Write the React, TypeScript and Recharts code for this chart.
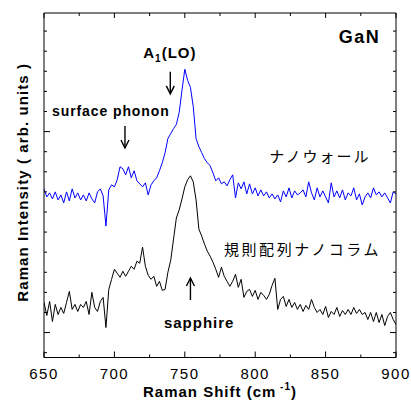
import React from 'react';
import { LineChart, Line, XAxis, YAxis, ReferenceDot, ReferenceLine } from 'recharts';

// Raman shift grid (cm^-1)
const shifts = [
  650, 652, 654, 656, 658, 660, 662, 664, 666, 668,
  670, 672, 674, 676, 678, 680, 682, 684, 686, 688,
  690, 692, 694, 696, 698, 700, 702, 704, 706, 708,
  710, 712, 714, 716, 718, 720, 722, 724, 726, 728,
  730, 732, 734, 736, 738, 740, 742, 744, 746, 748,
  750, 752, 754, 756, 758, 760, 762, 764, 766, 768,
  770, 772, 774, 776, 778, 780, 782, 784, 786, 788,
  790, 792, 794, 796, 798, 800, 802, 804, 806, 808,
  810, 812, 814, 816, 818, 820, 822, 824, 826, 828,
  830, 832, 834, 836, 838, 840, 842, 844, 846, 848,
  850, 852, 854, 856, 858, 860, 862, 864, 866, 868,
  870, 872, 874, 876, 878, 880, 882, 884, 886, 888,
  890, 892, 894, 896, 898, 900,
];

// ナノウォール (blue, upper trace)
const nanowall = [
  143, 135, 139, 133, 140, 132, 137, 129, 140, 131,
  143, 134, 139, 132, 137, 131, 139, 133, 129, 140,
  143, 136, 106, 142, 147, 145, 152, 165, 163, 157,
  165, 154, 161, 151, 148, 145, 149, 137, 147, 151,
  154, 161, 169, 179, 193, 198, 203, 207, 219, 241,
  262, 251, 244, 225, 193, 185, 179, 173, 169, 166,
  159, 151, 154, 148, 150, 146, 152, 157, 134, 149,
  143, 150, 138, 148, 138, 144, 136, 142, 136, 140,
  134, 138, 133, 137, 130, 141, 135, 144, 134, 141,
  137, 139, 142, 135, 150, 139, 132, 144, 135, 141,
  135, 129, 149, 135, 141, 134, 142, 132, 139, 136,
  144, 132, 138, 127, 135, 139, 134, 144, 137, 140,
  135, 139, 134, 129, 140, 138,
];

// 規則配列ナノコラム (black, lower trace)
const nanocolumn = [
  30, 17, 31, 11, 28, 18, 25, 19, 30, 41,
  23, 28, 21, 28, 25, 31, 18, 40, 25, 21,
  31, 35, 5, 43, 53, 63, 59, 55, 61, 56,
  61, 66, 63, 71, 69, 85, 66, 57, 53, 56,
  46, 51, 42, 43, 60, 72, 93, 114, 122, 133,
  145, 152, 156, 150, 132, 103, 96, 88, 81, 76,
  70, 63, 55, 65, 56, 51, 46, 51, 58, 45,
  53, 35, 41, 43, 36, 42, 33, 40, 37, 33,
  38, 47, 54, 23, 33, 36, 26, 33, 25, 30,
  23, 28, 21, 27, 23, 33, 25, 20, 23, 18,
  26, 15, 21, 18, 25, 16, 22, 18, 23, 18,
  25, 19, 23, 18, 20, 13, 20, 11, 20, 10,
  18, 7, 16, 20, 13, 8,
];

const xTicks = [650, 675, 700, 725, 750, 775, 800, 825, 850, 875, 900];
const xLabelStep = 50;
const yTicks = [-20, 0, 20, 40, 60, 80, 100, 120, 140, 160, 180, 200, 220, 240, 260, 280, 300];
const yMajorTicks = [0, 200];
const xDomain = [650, 900];
const yDomain = [-24.8, 318];

const data = shifts.map((x, i) => ({ x, wall: nanowall[i], column: nanocolumn[i] }));

const LATIN = '"Liberation Sans", Arial, Helvetica, sans-serif';
const CJK = '"Noto Sans CJK JP", "Noto Sans CJK SC", sans-serif';

const BottomTick = (p: any) => {
  const v = p.payload.value;
  const major = v % xLabelStep === 0;
  return (
    <g>
      <line x1={p.x} x2={p.x} y1={p.y} y2={p.y - (major ? 6 : 3)} stroke="#000" strokeWidth={1} />
      {major && (
        <text x={p.x} y={p.y + 21} textAnchor="middle" fontFamily={LATIN} fontSize={15} letterSpacing={1.5} fill="#000">
          {v}
        </text>
      )}
    </g>
  );
};

const TopTick = (p: any) => {
  const v = p.payload.value;
  const major = v % xLabelStep === 0;
  return <line x1={p.x} x2={p.x} y1={p.y} y2={p.y + (major ? 5 : 3)} stroke="#000" strokeWidth={1} />;
};

const LeftTick = (p: any) => {
  const major = yMajorTicks.includes(p.payload.value);
  return <line x1={p.x} x2={p.x + (major ? 6 : 3)} y1={p.y} y2={p.y} stroke="#000" strokeWidth={1} />;
};

const RightTick = (p: any) => {
  const major = yMajorTicks.includes(p.payload.value);
  return <line x1={p.x} x2={p.x - (major ? 6 : 3)} y1={p.y} y2={p.y} stroke="#000" strokeWidth={1} />;
};

const textAt = (content: React.ReactNode, size: number, opts: { bold?: boolean; family?: string; ls?: number } = {}) =>
  (p: any) => (
    <text
      x={p.cx}
      y={p.cy}
      textAnchor="middle"
      fontFamily={opts.family ?? LATIN}
      fontWeight={opts.bold === false ? 400 : 700}
      fontSize={size}
      letterSpacing={opts.ls ?? 0}
      fill="#000"
    >
      {content}
    </text>
  );

const headDown = (p: any) => (
  <path d={`M${p.cx - 4},${p.cy - 8} L${p.cx},${p.cy} L${p.cx + 4},${p.cy - 8}`} fill="none" stroke="#000" strokeWidth={1.4} />
);
const headUp = (p: any) => (
  <path d={`M${p.cx - 4},${p.cy + 8} L${p.cx},${p.cy} L${p.cx + 4},${p.cy + 8}`} fill="none" stroke="#000" strokeWidth={1.4} />
);

const XTitle = (props: any) => {
  const vb = props.viewBox ?? { x: 44, y: 357.5, width: 352, height: 1 };
  const cx = vb.x + vb.width / 2;
  const y = vb.y + 39.5;
  return (
    <text x={cx} y={y} textAnchor="middle" fontFamily={LATIN} fontWeight={700} fontSize={15} letterSpacing={1} fill="#000">
      <tspan>Raman Shift (cm</tspan>
      <tspan dy={-7} fontSize={10}> -1</tspan>
      <tspan dy={7}>)</tspan>
    </text>
  );
};

const YTitle = (props: any) => {
  const vb = props.viewBox ?? { x: 43, y: 13, width: 1, height: 344.5 };
  const cx = vb.x + vb.width - 16.5;
  const cy = vb.y + vb.height / 2 - 3;
  return (
    <text
      x={cx}
      y={cy}
      transform={`rotate(-90 ${cx} ${cy})`}
      textAnchor="middle"
      fontFamily={LATIN}
      fontWeight={700}
      fontSize={15}
      letterSpacing={1.1}
      fill="#000"
    >
      Raman Intensity ( arb. units )
    </text>
  );
};

const axisStroke = { stroke: '#000', strokeWidth: 1 };

export default function App() {
  return (
    <div style={{ position: 'absolute', left: 0, top: 0, width: 411, height: 401, background: '#fff' }}>
      <LineChart width={411} height={401} data={data} margin={{ top: 12, right: 14, bottom: 42.5, left: 43 }}>
        <XAxis
          xAxisId="b"
          dataKey="x"
          type="number"
          domain={xDomain}
          ticks={xTicks}
          interval={0}
          allowDataOverflow
          orientation="bottom"
          height={1}
          tickSize={0}
          tickMargin={0}
          axisLine={axisStroke}
          tickLine={false}
          tick={BottomTick}
          label={(p: any) => <XTitle {...p} />}
        />
        <XAxis
          xAxisId="t"
          dataKey="x"
          type="number"
          domain={xDomain}
          ticks={xTicks}
          interval={0}
          allowDataOverflow
          orientation="top"
          height={1}
          tickSize={0}
          tickMargin={0}
          axisLine={axisStroke}
          tickLine={false}
          tick={TopTick}
        />
        <YAxis
          yAxisId="l"
          type="number"
          domain={yDomain}
          ticks={yTicks}
          interval={0}
          allowDataOverflow
          orientation="left"
          width={1}
          tickSize={0}
          tickMargin={0}
          axisLine={axisStroke}
          tickLine={false}
          tick={LeftTick}
          label={(p: any) => <YTitle {...p} />}
        />
        <YAxis
          yAxisId="r"
          type="number"
          domain={yDomain}
          ticks={yTicks}
          interval={0}
          allowDataOverflow
          orientation="right"
          width={1}
          tickSize={0}
          tickMargin={0}
          axisLine={axisStroke}
          tickLine={false}
          tick={RightTick}
        />

        <Line xAxisId="b" yAxisId="l" type="linear" dataKey="column" stroke="#000000" strokeWidth={1} dot={false} isAnimationActive={false} />
        <Line xAxisId="b" yAxisId="l" type="linear" dataKey="wall" stroke="#0000FF" strokeWidth={1} dot={false} isAnimationActive={false} />

        {/* annotations */}
        <ReferenceDot xAxisId="b" yAxisId="l" x={874.1} y={288.2} r={0} ifOverflow="visible" shape={textAt('GaN', 18, { ls: 1.5 })} />
        <ReferenceDot
          xAxisId="b"
          yAxisId="l"
          x={739.4}
          y={273.2}
          r={0}
          ifOverflow="visible"
          shape={textAt(
            <>
              <tspan>A</tspan>
              <tspan dy={3.5} fontSize={10}>1</tspan>
              <tspan dy={-3.5}>(LO)</tspan>
            </>,
            15,
            { ls: 1 }
          )}
        />
        <ReferenceLine xAxisId="b" yAxisId="l" segment={[{ x: 739.7, y: 259.6 }, { x: 739.7, y: 237.5 }]} stroke="#000" strokeWidth={1.4} ifOverflow="visible" />
        <ReferenceDot xAxisId="b" yAxisId="l" x={739.7} y={237.5} r={0} ifOverflow="visible" shape={headDown} />

        <ReferenceDot xAxisId="b" yAxisId="l" x={697.5} y={215.5} r={0} ifOverflow="visible" shape={textAt('surface phonon', 14, { ls: 0.9 })} />
        <ReferenceLine xAxisId="b" yAxisId="l" segment={[{ x: 707.5, y: 205.6 }, { x: 707.5, y: 183.7 }]} stroke="#000" strokeWidth={1.4} ifOverflow="visible" />
        <ReferenceDot xAxisId="b" yAxisId="l" x={707.5} y={183.7} r={0} ifOverflow="visible" shape={headDown} />

        <ReferenceDot xAxisId="b" yAxisId="l" x={846} y={170.2} r={0} ifOverflow="visible" shape={textAt('ナノウォール', 15, { bold: false, family: CJK, ls: 2 })} />
        <ReferenceDot xAxisId="b" yAxisId="l" x={833.6} y={77.2} r={0} ifOverflow="visible" shape={textAt('規則配列ナノコラム', 15, { bold: false, family: CJK, ls: 2.6 })} />

        <ReferenceLine xAxisId="b" yAxisId="l" segment={[{ x: 754, y: 32.4 }, { x: 754, y: 54.3 }]} stroke="#000" strokeWidth={1.4} ifOverflow="visible" />
        <ReferenceDot xAxisId="b" yAxisId="l" x={754} y={54.3} r={0} ifOverflow="visible" shape={headUp} />
        <ReferenceDot xAxisId="b" yAxisId="l" x={760.2} y={4.6} r={0} ifOverflow="visible" shape={textAt('sapphire', 15, { ls: 1 })} />
      </LineChart>
    </div>
  );
}
